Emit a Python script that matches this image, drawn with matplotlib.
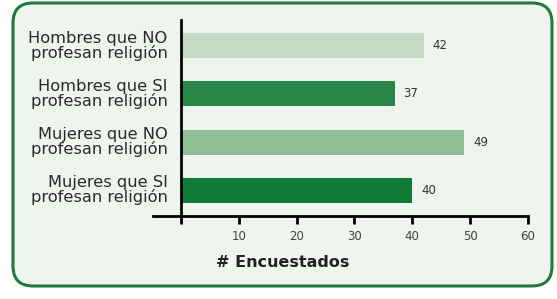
import matplotlib.pyplot as plt
from matplotlib.patches import FancyBboxPatch

categorias = ['Hombres que NO\nprofesan religión', 'Hombres que SI\nprofesan religión',
              'Mujeres que NO\nprofesan religión', 'Mujeres que SI\nprofesan religión']
valores = [42, 37, 49, 40]
colores = ['#c4dbc6', '#2a8748', '#8fbf97', '#0e7a34']
ticks = [0, 10, 20, 30, 40, 50, 60]
tick_labels = ['', '10', '20', '30', '40', '50', '60']

W, H = 557, 299
fig = plt.figure(figsize=(W / 100, H / 100), dpi=100)
fig.patch.set_facecolor('white')

# fondo con recuadro redondeado (en pixeles)
bg = fig.add_axes([0, 0, 1, 1], zorder=0)
bg.set_xlim(0, W)
bg.set_ylim(H, 0)
bg.axis('off')
bg.add_patch(FancyBboxPatch((13, 3), 539, 283,
                            boxstyle='round,pad=0,rounding_size=20',
                            facecolor='#eff4ef', edgecolor='#1f7a3c', linewidth=2.2))

ax = fig.add_axes([153 / W, 1 - 216 / H, (528 - 153) / W, (216 - 20) / H], zorder=1)
ax.set_facecolor('none')

pos = list(range(len(valores)))
ax.barh(pos, valores, height=0.52, color=colores, zorder=2)
for p, v in zip(pos, valores):
    ax.text(v + 1.5, p, str(v), va='center', ha='left', fontsize=8.5, color='#333333')

# etiquetas de categoria (texto a la izquierda del eje)
for p, c in zip(pos, categorias):
    ax.text(-2.3, p, c, ha='right', va='center', fontsize=11.7,
            color='#2a2a2a', linespacing=0.9, multialignment='right')

ax.set_ylim(3.54, -0.54)
ax.set_xlim(-4.8, 60)
ax.set_xticks(ticks)
ax.set_xticklabels(tick_labels)
ax.set_yticks([])
ax.tick_params(axis='x', direction='out', length=6, width=2, pad=4,
               labelsize=8.5, labelcolor='#444444')

ax.spines['left'].set_position(('data', 0))
ax.spines['left'].set_linewidth(2)
ax.spines['bottom'].set_linewidth(2)
ax.spines['top'].set_visible(False)
ax.spines['right'].set_visible(False)

ax.set_xlabel('# Encuestados', fontsize=11.5, fontweight='bold', color='#222222')
ax.xaxis.set_label_coords(0.347, -0.2)

fig.savefig('out.png', dpi=100)
